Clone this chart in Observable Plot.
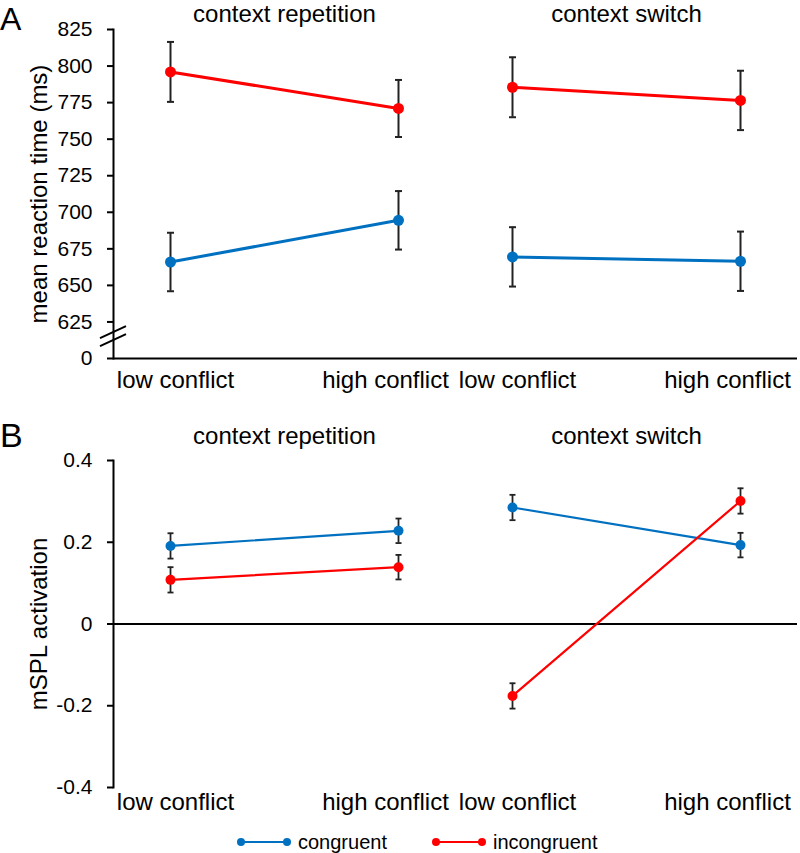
<!DOCTYPE html>
<html><head><meta charset="utf-8">
<script src="https://cdn.jsdelivr.net/npm/d3@7"></script>
<script src="https://cdn.jsdelivr.net/npm/@observablehq/plot@0.6"></script>
<style>
body{margin:0;background:#fff;font-family:"Liberation Sans",Arial,sans-serif;}
#wrap{position:relative;width:800px;height:853px;overflow:hidden;}
.panel{position:absolute;left:0;overflow:visible;}
</style></head><body><div id="wrap"></div>
<script>
// ---- data ----
const contexts = ["context repetition", "context switch"];
const conflicts = ["low conflict", "high conflict"];
const conditions = ["congruent", "incongruent"];
const colors = ["#0070c0", "#ff0000"];
// order of values: repetition-low, repetition-high, switch-low, switch-high
const rtCongruent = [666, 694.5, 669.5, 666.5];
const rtCongruentErr = [20, 20, 20.3, 20.3];
const rtIncongruent = [796, 771, 785.5, 776.5];
const rtIncongruentErr = [20.5, 19.5, 20.5, 20.3];
const actCongruent = [0.191, 0.228, 0.285, 0.193];
const actCongruentErr = [0.031, 0.03, 0.031, 0.03];
const actIncongruent = [0.108, 0.139, -0.176, 0.301];
const actIncongruentErr = [0.031, 0.03, 0.031, 0.031];
const rtTicks = [600, 625, 650, 675, 700, 725, 750, 775, 800, 825];
const rtTickLabels = ["0", "625", "650", "675", "700", "725", "750", "775", "800", "825"];
const actTicks = [-0.4, -0.2, 0, 0.2, 0.4];
const actTickLabels = ["-0.4", "-0.2", "0", "0.2", "0.4"];
const rtBreak = 615;

function buildRows(series) {
  const rows = [];
  series.forEach(([cond, means, errs]) => {
    means.forEach((m, i) => rows.push({
      condition: cond,
      context: contexts[Math.floor(i / 2)],
      conflict: conflicts[i % 2],
      mean: m, lo: m - errs[i], hi: m + errs[i]
    }));
  });
  return rows;
}
const rtRows = buildRows([["congruent", rtCongruent, rtCongruentErr], ["incongruent", rtIncongruent, rtIncongruentErr]]);
const actRows = buildRows([["congruent", actCongruent, actCongruentErr], ["incongruent", actIncongruent, actIncongruentErr]]);

const cap = { draw(ctx, size) { const r = Math.sqrt(size / Math.PI); ctx.moveTo(-r, 0); ctx.lineTo(r, 0); } };
const FONT = '"Liberation Sans", Arial, sans-serif';

function panel(o) {
  return Plot.plot({
    width: 800, height: o.height,
    marginLeft: 113, marginRight: 3, marginTop: o.marginTop, marginBottom: o.marginBottom,
    style: { fontFamily: FONT, fontSize: "24px", color: "#000", background: "#fff", overflow: "visible" },
    facet: { data: o.rows, x: "context" },
    fx: { domain: contexts, padding: 0, round: false, axis: null },
    x: { domain: conflicts, padding: 0.25, round: false, axis: null },
    y: { domain: o.domain, axis: null },
    color: { domain: conditions, range: colors },
    marks: [
      Plot.axisFx({ anchor: "top", tickSize: 0, tickPadding: o.titlePad, label: null, fontSize: 24 }),
      Plot.axisX({ ticks: [conflicts[0]], anchor: "bottom", tickSize: 0, tickPadding: o.xPad, label: null, fontSize: 24, dx: 5 }),
      Plot.axisX({ ticks: [conflicts[1]], anchor: "bottom", tickSize: 0, tickPadding: o.xPad, label: null, fontSize: 24, dx: -13 }),
      Plot.frame({ anchor: "left", facetAnchor: "left", strokeWidth: 2 }),
      Plot.axisY({ ticks: o.ticks, tickFormat: (d) => o.labels[o.ticks.indexOf(d)], tickSize: 6, tickPadding: 15,
        strokeWidth: 2, label: null, fontSize: 21 }),
      Plot.axisY({ ticks: [], tickSize: 0, label: o.yLabel, labelAnchor: "center", labelArrow: "none",
        labelOffset: o.labelOffset, fontSize: 24 }),
      Plot.ruleY([o.baseline], { stroke: "#000", strokeWidth: 2 }),
      Plot.ruleX(o.rows, { x: "conflict", y1: "lo", y2: "hi", stroke: "#222", strokeWidth: o.errW }),
      Plot.dot(o.rows, { x: "conflict", y: "lo", symbol: cap, r: o.capR, stroke: "#222", strokeWidth: o.errW }),
      Plot.dot(o.rows, { x: "conflict", y: "hi", symbol: cap, r: o.capR, stroke: "#222", strokeWidth: o.errW }),
      Plot.line(o.rows, { x: "conflict", y: "mean", z: "condition", stroke: "condition", strokeWidth: o.lineW }),
      Plot.dot(o.rows, { x: "conflict", y: "mean", fill: "condition", r: o.dotR })
    ]
  });
}

const wrap = document.getElementById("wrap");

const chartA = panel({
  rows: rtRows, domain: [600, 825], ticks: rtTicks, labels: rtTickLabels,
  yLabel: "mean reaction time (ms)", height: 400, marginTop: 29, marginBottom: 42,
  titlePad: 8, xPad: 12, baseline: 600, errW: 2, capR: 3.5, lineW: 3, dotR: 5.5, labelOffset: 84
});
chartA.classList.add("panel"); chartA.style.top = "0px";
wrap.appendChild(chartA);

const chartB = panel({
  rows: actRows, domain: [-0.4, 0.4], ticks: actTicks, labels: actTickLabels,
  yLabel: "mSPL activation", height: 420, marginTop: 60, marginBottom: 33,
  titlePad: 17, xPad: 5, baseline: 0, errW: 1.8, capR: 3, lineW: 2.2, dotR: 5, labelOffset: 84
});
chartB.classList.add("panel"); chartB.style.top = "400px";
wrap.appendChild(chartB);

// axis break marks on panel A
const ys = chartA.scale("y");
const yA = d3.scaleLinear(ys.domain, ys.range);
const by = yA(rtBreak);
const gBreak = d3.select(chartA).append("g").attr("stroke", "#000").attr("stroke-width", 2);
[-4, 4].forEach(off => {
  gBreak.append("line").attr("x1", 100).attr("x2", 126)
    .attr("y1", by + off + 6).attr("y2", by + off - 6);
});

// overlay: panel letters and legend
const ov = d3.select(wrap).append("svg").attr("width", 800).attr("height", 853)
  .style("position", "absolute").style("left", "0").style("top", "0").style("pointer-events", "none")
  .style("font-family", FONT);
ov.append("text").attr("x", 0).attr("y", 30).attr("font-size", 32).text("A");
ov.append("text").attr("x", 0).attr("y", 447).attr("font-size", 34).text("B");
const legendX = [241, 436];
conditions.forEach((c, i) => {
  const g = ov.append("g").attr("transform", `translate(${legendX[i]},842)`);
  g.append("line").attr("x1", 0).attr("x2", 46).attr("stroke", colors[i]).attr("stroke-width", 2.2);
  g.append("circle").attr("cx", 0).attr("r", 4).attr("fill", colors[i]);
  g.append("circle").attr("cx", 46).attr("r", 4).attr("fill", colors[i]);
  g.append("text").attr("x", 57).attr("y", 7).attr("font-size", 20).text(c);
});
</script></body></html>
